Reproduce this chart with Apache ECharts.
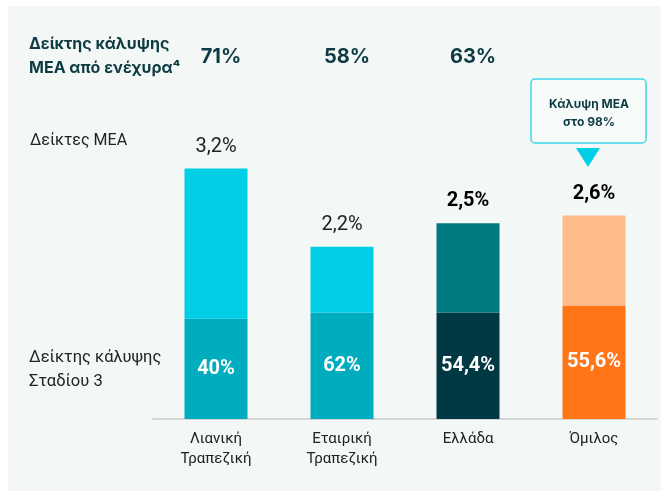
<!DOCTYPE html>
<html>
<head>
<meta charset="utf-8">
<script src="https://cdn.jsdelivr.net/npm/echarts@6/dist/echarts.min.js"></script>
<style>
  html, body { margin: 0; padding: 0; background: #fff; }
  #chart { width: 661px; height: 491px; }
</style>
</head>
<body>
<div id="chart"></div>
<script>
// categories and values
const categories = ['Λιανική\nΤραπεζική', 'Εταιρική\nΤραπεζική', 'Ελλάδα', 'Όμιλος'];
const nplRatio = [3.2, 2.2, 2.5, 2.6];                // Δείκτες ΜΕΑ (total bar height)
const stage3Part = [1.28, 1.36, 1.36, 1.45];          // lower segment height
const restPart = [1.92, 0.84, 1.14, 1.15];            // upper segment height
const stage3Coverage = ['40%', '62%', '54,4%', '55,6%'];
const collateralCoverage = ['71%', '58%', '63%'];
const nplLabels = ['3,2%', '2,2%', '2,5%', '2,6%'];

const topColors = ['#00CFE6', '#00CFE6', '#007A80', '#FFBA8A'];
const bottomColors = ['#00ADBE', '#00ADBE', '#003844', '#FF7518'];
const boldTop = [false, false, true, true];

const dark = '#0D3B44';

const chart = echarts.init(document.getElementById('chart'));

chart.setOption({
  backgroundColor: '#fff',
  animation: false,
  grid: { left: 153, right: 4, top: 106, bottom: 72 },
  xAxis: {
    type: 'category',
    data: categories,
    axisLine: { lineStyle: { color: '#D4D6D6', width: 2 } },
    axisTick: { show: false },
    axisLabel: {
      color: '#222',
      fontFamily: 'Roboto',
      fontSize: 15,
      lineHeight: 20,
      margin: 10
    }
  },
  yAxis: { type: 'value', min: 0, max: 4, show: false },
  series: [
    {
      type: 'bar',
      stack: 'npl',
      barWidth: 63,
      data: stage3Part.map((v, i) => ({ value: v, itemStyle: { color: bottomColors[i] } })),
      label: {
        show: true,
        position: 'inside',
        color: '#fff',
        fontFamily: 'Roboto',
        fontWeight: 'bold',
        fontSize: 20,
        formatter: p => stage3Coverage[p.dataIndex]
      },
      z: 3
    },
    {
      type: 'bar',
      stack: 'npl',
      barWidth: 63,
      data: restPart.map((v, i) => ({
        value: v,
        itemStyle: { color: topColors[i] },
        label: {
          fontWeight: boldTop[i] ? 'bold' : 'normal',
          color: boldTop[i] ? '#000' : '#222'
        }
      })),
      label: {
        show: true,
        position: 'top',
        distance: 12,
        fontFamily: 'Roboto',
        fontSize: 20,
        formatter: p => nplLabels[p.dataIndex]
      },
      z: 3
    }
  ],
  graphic: [
    { type: 'rect', left: 8, top: 6, shape: { width: 653, height: 485 }, style: { fill: '#F3F7F5' }, z: -10 },
    {
      type: 'text', left: 29, top: 32,
      style: {
        text: 'Δείκτης κάλυψης\nΜΕΑ από ενέχυρα⁴',
        font: 'bold 16px Inter', fill: dark, lineHeight: 24
      }
    },
    {
      type: 'text', left: 30, top: 133,
      style: { text: 'Δείκτες ΜΕΑ', font: '16px Roboto', fill: '#222' }
    },
    {
      type: 'text', left: 29, top: 346,
      style: { text: 'Δείκτης κάλυψης\nΣταδίου 3', font: '16.5px Roboto', fill: '#222', lineHeight: 24 }
    }
  ]
});

// header row and callout, positioned from the category axis
const extra = [];
collateralCoverage.forEach((t, i) => {
  const x = chart.convertToPixel({ xAxisIndex: 0 }, i);
  extra.push({
    type: 'text', x: x + 5, y: 57,
    style: { text: t, font: 'bold 20px Inter', fill: dark, align: 'center', verticalAlign: 'middle' }
  });
});
const cx = chart.convertToPixel({ xAxisIndex: 0 }, 3) - 6;
extra.push({
  type: 'rect', x: cx - 57, y: 79,
  shape: { width: 115, height: 64, r: 4 },
  style: { fill: '#F7FBFA', stroke: '#3DD6EA', lineWidth: 1.5 }
});
extra.push({
  type: 'text', x: cx + 1, y: 113,
  style: {
    text: 'Κάλυψη ΜΕΑ\nστο 98%', font: 'bold 12px Inter', fill: dark,
    align: 'center', verticalAlign: 'middle', lineHeight: 18
  }
});
extra.push({
  type: 'polygon',
  shape: { points: [[cx - 12, 148], [cx + 12, 148], [cx, 167]] },
  style: { fill: '#00CFE6' }
});
chart.setOption({ graphic: chart.getOption().graphic[0].elements.concat(extra) });
</script>
</body>
</html>
